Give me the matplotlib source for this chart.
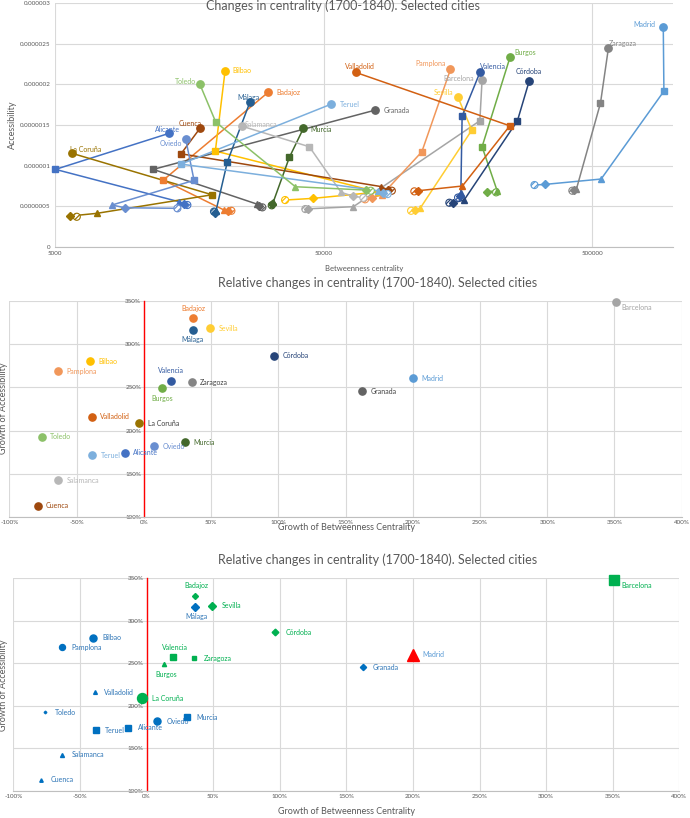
import numpy as np
import matplotlib
matplotlib.use('Agg')
import matplotlib.pyplot as plt
from matplotlib.ticker import FuncFormatter

plt.rcParams['font.family'] = ['Lato', 'DejaVu Sans']
plt.rcParams['hatch.linewidth'] = 0.9

# --- data -------------------------------------------------------------------
cities = ['Alicante', 'Badajoz', 'Barcelona', 'Bilbao', 'Madrid', 'Burgos', 'Córdoba',
          'Cuenca', 'Granada', 'La Coruña', 'Málaga', 'Murcia', 'Oviedo', 'Pamplona',
          'Salamanca', 'Sevilla', 'Teruel', 'Toledo', 'Valencia', 'Valladolid', 'Zaragoza']

# betweenness centrality, 5 time steps per city (same order as cities)
betweenness = [
    [15550, 15110, 14480, 5020, 13290],        # Alicante
    [22680, 22050, 21300, 12650, 31150],       # Badajoz
    [42770, 43770, 64550, 190900, 194600],     # Barcelona
    [35950, 45800, 79800, 19770, 21490],       # Bilbao
    [305000, 334000, 540000, 925000, 920000],  # Madrid
    [219500, 202600, 221400, 194600, 247500],  # Burgos
    [147000, 152200, 166800, 263500, 291400],  # Córdoba
    [89750, 86950, 81900, 14730, 17380],       # Cuenca
    [29580, 28760, 28200, 11610, 77750],       # Granada
    [6025, 5685, 7150, 19220, 5800],           # La Coruña
    [19550, 19720, 19890, 21920, 26620],       # Málaga
    [32070, 32150, 32510, 37290, 42050],       # Murcia
    [14280, 9090, 8155, 16470, 15340],         # Oviedo
    [71350, 75800, 82400, 116100, 148400],     # Pamplona
    [70350, 64250, 58100, 44260, 24800],       # Salamanca
    [105900, 109600, 114400, 178200, 158000],  # Sevilla
    [86550, 83300, 79600, 14730, 53350],       # Teruel
    [74950, 72000, 39260, 19840, 17300],       # Toledo
    [158400, 160500, 162200, 164000, 191400],  # Valencia
    [108900, 112700, 164400, 246900, 65900],   # Valladolid
    [422000, 428600, 437000, 537000, 575000],  # Zaragoza
]

# accessibility, 5 time steps per city
accessibility = [
    [5.14e-7, 5.26e-7, 5.54e-7, 9.53e-7, 1.397e-6],
    [4.43e-7, 4.46e-7, 4.52e-7, 8.21e-7, 1.905e-6],
    [4.64e-7, 4.67e-7, 4.93e-7, 1.552e-6, 2.057e-6],
    [5.75e-7, 5.96e-7, 6.74e-7, 1.179e-6, 2.167e-6],
    [7.60e-7, 7.68e-7, 8.34e-7, 1.917e-6, 2.706e-6],
    [6.70e-7, 6.77e-7, 6.90e-7, 1.232e-6, 2.340e-6],
    [5.42e-7, 5.42e-7, 5.75e-7, 1.552e-6, 2.041e-6],
    [6.90e-7, 6.98e-7, 7.41e-7, 1.145e-6, 1.465e-6],
    [4.85e-7, 5.07e-7, 5.26e-7, 9.53e-7, 1.683e-6],
    [3.69e-7, 3.78e-7, 4.11e-7, 6.40e-7, 1.150e-6],
    [4.33e-7, 4.21e-7, 4.46e-7, 1.047e-6, 1.786e-6],
    [5.10e-7, 5.26e-7, 5.54e-7, 1.101e-6, 1.458e-6],
    [4.73e-7, 4.80e-7, 5.14e-7, 8.18e-7, 1.323e-6],
    [5.84e-7, 6.06e-7, 6.37e-7, 1.170e-6, 2.185e-6],
    [6.03e-7, 6.24e-7, 6.70e-7, 1.232e-6, 1.486e-6],
    [4.43e-7, 4.54e-7, 4.73e-7, 1.437e-6, 1.847e-6],
    [6.49e-7, 6.67e-7, 6.90e-7, 1.018e-6, 1.757e-6],
    [6.90e-7, 6.98e-7, 7.39e-7, 1.536e-6, 2.004e-6],
    [6.06e-7, 6.24e-7, 6.58e-7, 1.610e-6, 2.155e-6],
    [6.82e-7, 6.90e-7, 7.48e-7, 1.490e-6, 2.148e-6],
    [6.90e-7, 6.98e-7, 7.11e-7, 1.770e-6, 2.451e-6],
]

# relative growth 1700-1840 (%), same order as cities
growth_betweenness = [-14.0, 36.7, 351.2, -40.1, 200.0, 13.5, 96.8, -79.0, 162.5, -3.4,
                      36.2, 30.3, 7.6, -63.8, -63.8, 49.3, -38.2, -76.1, 20.0, -38.9, 35.5]
growth_accessibility = [174.6, 329.6, 348.0, 280.0, 260.4, 248.8, 286.5, 113.5, 245.4, 208.8,
                        316.5, 186.9, 181.9, 268.8, 142.7, 318.0, 171.5, 192.7, 257.7, 216.2, 255.8]

acc_ticks = [0, 0.0000005, 0.000001, 0.0000015, 0.000002, 0.0000025, 0.000003]
bet_ticks = [5000, 50000, 500000]
growth_x_ticks = list(range(-100, 401, 50))
growth_y_ticks = list(range(100, 351, 50))

# --- styles -------------------------------------------------------------------
city_colors = ['#4472C4', '#ED7D31', '#A5A5A5', '#FFC000', '#5B9BD5', '#70AD47', '#264478',
               '#9E480E', '#636363', '#997300', '#255E91', '#43682B', '#698ED0', '#F1975A',
               '#B7B7B7', '#FFCD33', '#7CAFDD', '#8CC168', '#335AA1', '#D26012', '#848484']

# label offsets (points) and alignment for the trajectory chart
top_labels = {
    'Madrid': (-6, 2, 'right'), 'Zaragoza': (0, 3, 'left'), 'Burgos': (3, 3, 'left'),
    'Valencia': (0, 4, 'left'), 'Córdoba': (0, 7, 'center'), 'Pamplona': (-3, 4, 'right'),
    'Barcelona': (-6, 1, 'right'), 'Sevilla': (-3, 3, 'right'), 'Valladolid': (3, 4, 'center'),
    'Granada': (6, 0, 'left'), 'Teruel': (6, 0, 'left'), 'Murcia': (5, -1, 'left'),
    'Salamanca': (2, 1, 'left'), 'Badajoz': (6, 0, 'left'), 'Málaga': (-1, 3, 'center'),
    'Bilbao': (5, 0, 'left'), 'Toledo': (-3, 2, 'right'), 'Cuenca': (1, 3, 'right'),
    'Alicante': (-1, 3, 'center'), 'Oviedo': (-3, -3, 'right'), 'La Coruña': (-2, 3, 'left'),
}

# label placement in the growth charts
growth_pos = {'Badajoz': 'above', 'Málaga': 'below', 'Valencia': 'above', 'Burgos': 'below',
              'Barcelona': 'belowright'}

# marker style of the last chart: marker, colour, size in px
BLUE, GREEN = '#0070C0', '#00B050'
bottom_style = {
    'Alicante': ('s', BLUE, 5.7), 'Badajoz': ('D', GREEN, 4.0), 'Barcelona': ('s', GREEN, 9.0),
    'Bilbao': ('o', BLUE, 6.7), 'Madrid': ('^', '#FF0000', 11.0), 'Burgos': ('^', GREEN, 4.0),
    'Córdoba': ('D', GREEN, 4.5), 'Cuenca': ('^', BLUE, 3.3), 'Granada': ('D', BLUE, 4.2),
    'La Coruña': ('o', GREEN, 9.5), 'Málaga': ('D', BLUE, 5.3), 'Murcia': ('s', BLUE, 5.7),
    'Oviedo': ('o', BLUE, 6.7), 'Pamplona': ('o', BLUE, 5.7), 'Salamanca': ('^', BLUE, 3.8),
    'Sevilla': ('D', GREEN, 5.6), 'Teruel': ('s', BLUE, 5.0), 'Toledo': ('D', BLUE, 1.8),
    'Valencia': ('s', GREEN, 5.0), 'Valladolid': ('^', BLUE, 3.6), 'Zaragoza': ('s', GREEN, 4.0),
}

TICK_C = '#595959'
GRID_C = '#D9D9D9'

fig = plt.figure(figsize=(6.9, 8.18), dpi=100)
W, H = 690.0, 818.0


def px_axes(left, top, right, bottom):
    return fig.add_axes([left / W, 1 - bottom / H, (right - left) / W, (bottom - top) / H])


# --- 1. trajectories ---------------------------------------------------------------
ax1 = px_axes(55, 3.3, 673, 246.7)
ax1.set_xscale('log')
ax1.set_xlim(5000, 1000000)
ax1.set_ylim(0, 0.000003)
ax1.set_xticks(bet_ticks)
ax1.set_xticklabels([str(t) for t in bet_ticks])
ax1.xaxis.set_minor_locator(plt.NullLocator())
ax1.set_yticks(acc_ticks)
ax1.set_yticklabels([f'{t:.7f}'.rstrip('0').rstrip('.') for t in acc_ticks])
ax1.grid(True, color=GRID_C, lw=0.8)
ax1.set_axisbelow(True)
for s in ['top', 'right', 'left']:
    ax1.spines[s].set_visible(False)
ax1.spines['bottom'].set_color('#BFBFBF')
ax1.tick_params(length=0, labelsize=4.5, colors=TICK_C, pad=3)

for i, city in enumerate(cities):
    c = city_colors[i]
    bx = betweenness[i]
    ay = accessibility[i]
    ax1.plot(bx, ay, color=c, lw=1.1, zorder=2, clip_on=False)
    ax1.scatter(bx[0], ay[0], s=26, facecolor='white', edgecolor=c, hatch='//////',
                lw=0.8, zorder=3, clip_on=False)
    for k, (m, ms) in enumerate([('D', 3.6), ('^', 4.4), ('s', 4.2), ('o', 5.3)], start=1):
        ax1.plot(bx[k], ay[k], marker=m, ms=ms, color=c, mec=c, zorder=3, clip_on=False)
    dx, dy, ha = top_labels[city]
    ax1.annotate(city, (bx[-1], ay[-1]), xytext=(dx, dy), textcoords='offset points',
                 ha=ha, va='center', fontsize=5.0, color=c)

fig.text(12 / W, 1 - 125 / H, 'Accessibility', rotation=90, ha='center', va='center',
         fontsize=6.5, color=TICK_C)
fig.text(364 / W, 1 - 268.3 / H, 'Betweenness centrality', ha='center', va='center',
         fontsize=5.5, color=TICK_C)
fig.text(343 / W, 1 - 6 / H, 'Changes in centrality (1700-1840). Selected cities',
         ha='center', va='center', fontsize=9, color=TICK_C)


# --- 2 & 3. relative growth ---------------------------------------------------------
def style_growth_axes(ax):
    ax.set_xlim(-100, 400)
    ax.set_ylim(100, 350)
    ax.set_xticks(growth_x_ticks)
    ax.set_yticks(growth_y_ticks)
    pct = FuncFormatter(lambda v, p: f'{v:.0f}%')
    ax.xaxis.set_major_formatter(pct)
    ax.yaxis.set_major_formatter(pct)
    ax.grid(True, color=GRID_C, lw=0.8)
    ax.set_axisbelow(True)
    ax.spines['top'].set_visible(False)
    ax.spines['right'].set_visible(False)
    ax.spines['left'].set_position(('data', 0))
    ax.spines['left'].set_color('#FF0000')
    ax.spines['left'].set_linewidth(1.0)
    ax.spines['bottom'].set_color('#BFBFBF')
    ax.tick_params(length=0, labelsize=4.5, colors=TICK_C, pad=2)


def label_offset(city):
    pos = growth_pos.get(city, 'right')
    if pos == 'above':
        return (0, 7, 'center')
    if pos == 'below':
        return (0, -7, 'center')
    if pos == 'belowright':
        return (4, -4, 'left')
    return (6, 0, 'left')


ax2 = px_axes(9.4, 300.7, 681.7, 517.3)
style_growth_axes(ax2)
for i, city in enumerate(cities):
    c = city_colors[i]
    ax2.plot(growth_betweenness[i], growth_accessibility[i], 'o', ms=5.2, color=c, zorder=3,
             clip_on=False)
    dx, dy, ha = label_offset(city)
    lc = '#404040' if city in ('La Coruña', 'Zaragoza', 'Granada') else c
    ax2.annotate(city, (growth_betweenness[i], growth_accessibility[i]), xytext=(dx, dy),
                 textcoords='offset points', ha=ha, va='center', fontsize=5.0, color=lc)

fig.text(4 / W, 1 - 408 / H, 'Growth of Accessibility', rotation=90, ha='center',
         va='center', fontsize=6.5, color=TICK_C)
fig.text(346 / W, 1 - 528 / H, 'Growth of Betweenness Centrality', ha='center', va='center',
         fontsize=6.5, color=TICK_C)
fig.text(378 / W, 1 - 283 / H, 'Relative changes in centrality (1700-1840). Selected cities',
         ha='center', va='center', fontsize=9, color=TICK_C)

ax3 = px_axes(13.3, 578.3, 679.3, 791)
style_growth_axes(ax3)
for i, city in enumerate(cities):
    m, c, size = bottom_style[city]
    ax3.plot(growth_betweenness[i], growth_accessibility[i], marker=m, ms=size * 0.72 * 1.05,
             color=c, ls='none', zorder=3, clip_on=False)
    dx, dy, ha = label_offset(city)
    if city == 'Madrid':
        lc = '#5B9BD5'
    elif c == GREEN:
        lc = '#00B050'
    else:
        lc = '#2E75B6'
    ax3.annotate(city, (growth_betweenness[i], growth_accessibility[i]), xytext=(dx + 1, dy),
                 textcoords='offset points', ha=ha, va='center', fontsize=5.0, color=lc)

fig.text(4 / W, 1 - 685 / H, 'Growth of Accessibility', rotation=90, ha='center',
         va='center', fontsize=6.5, color=TICK_C)
fig.text(346 / W, 1 - 812 / H, 'Growth of Betweenness Centrality', ha='center', va='center',
         fontsize=6.5, color=TICK_C)
fig.text(378 / W, 1 - 560 / H, 'Relative changes in centrality (1700-1840). Selected cities',
         ha='center', va='center', fontsize=9, color=TICK_C)

fig.savefig('out.png', dpi=100)
